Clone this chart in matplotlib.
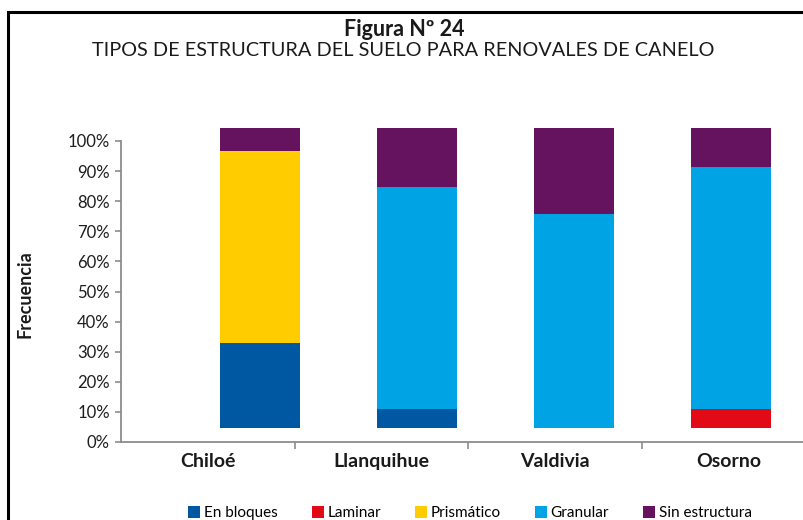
import matplotlib
matplotlib.use('Agg')
import matplotlib.pyplot as plt
from matplotlib.patches import Rectangle
import numpy as np

# ---------------- data ----------------
categories = ['Chiloé', 'Llanquihue', 'Valdivia', 'Osorno']
series_names = ['En bloques', 'Laminar', 'Prismático', 'Granular', 'Sin estructura']
en_bloques = [28.2, 6.2, 0.0, 0.0]
laminar = [0.0, 0.0, 0.0, 6.2]
prismatico = [64.1, 0.0, 0.0, 0.0]
granular = [0.0, 74.2, 71.2, 80.9]
sin_estructura = [7.7, 19.6, 28.8, 12.9]
y_ticks = [0, 10, 20, 30, 40, 50, 60, 70, 80, 90, 100]
y_tick_labels = [f'{v}%' for v in y_ticks]

colors = ['#0058A3', '#E20A16', '#FFCC00', '#00A4E4', '#65135F']

plt.rcParams['font.family'] = ['Lato', 'DejaVu Sans']

W, H = 804, 520
fig = plt.figure(figsize=(W / 100, H / 100), dpi=100)
fig.patch.set_facecolor('white')


def fx(px):
    return px / W


def fy(py):
    return 1 - py / H


# outer frame (cropped screenshot look)
fig.patches.append(Rectangle((fx(8), -0.2), 1.5, fy(12) + 0.2, transform=fig.transFigure,
                             fill=False, edgecolor='black', linewidth=2.2, clip_on=False))

# frame axes: ticks, labels, spines
ax = fig.add_axes([fx(121), fy(442), fx(816) - fx(121), fy(141) - fy(442)])
ax.set_xlim(-0.5, 3.5)
ax.set_ylim(0, 100)
ax.set_facecolor('none')
for s in ['top', 'right']:
    ax.spines[s].set_visible(False)
for s in ['left', 'bottom']:
    ax.spines[s].set_color('#8c8c8c')
    ax.spines[s].set_linewidth(1.3)
ax.set_yticks(y_ticks)
ax.set_yticklabels(y_tick_labels, fontsize=12, color='#1e1e1e')
ax.tick_params(axis='y', direction='out', length=4, width=1.2, color='#8c8c8c', pad=4)
ax.set_xticks(range(len(categories)))
ax.set_xticklabels(categories, fontsize=14, fontweight='bold', color='#1a1a1a')
ax.tick_params(axis='x', which='major', length=0, pad=8)
ax.set_xticks([0.5, 1.5, 2.5], minor=True)
ax.tick_params(axis='x', which='minor', direction='out', length=5, width=1.2, color='#8c8c8c')

# bar axes overlaid
axb = fig.add_axes([fx(121), fy(428), fx(816) - fx(121), fy(128) - fy(428)])
axb.axis('off')
axb.set_xlim(-0.882, 3.539)
axb.set_ylim(0, 100)
x = np.arange(len(categories))
bottom = np.zeros(len(categories))
handles = []
for name, vals, c in zip(series_names,
                         [en_bloques, laminar, prismatico, granular, sin_estructura],
                         colors):
    b = axb.bar(x, vals, width=0.509, bottom=bottom, color=c, label=name, linewidth=0)
    handles.append(b)
    bottom = bottom + np.array(vals)

# texts
fig.text(fx(404), fy(30), 'Figura Nº 24', fontsize=15.5, fontweight='bold',
         ha='center', va='center', color='#1a1a1a')
fig.text(fx(403), fy(50), 'TIPOS DE ESTRUCTURA DEL SUELO PARA RENOVALES DE CANELO',
         fontsize=14.3, ha='center', va='center', color='#1a1a1a')
fig.text(fx(25), fy(294), 'Frecuencia', fontsize=13, fontweight='bold', rotation=90,
         ha='center', va='center', color='#1a1a1a')

fig.legend(handles, series_names, loc='center', bbox_to_anchor=(fx(470), fy(513)),
           ncol=5, frameon=False, fontsize=11, handlelength=0.8, handleheight=0.8,
           handletextpad=0.25, columnspacing=2.2, borderaxespad=0, borderpad=0)

fig.savefig('out.png', dpi=100, facecolor='white')
